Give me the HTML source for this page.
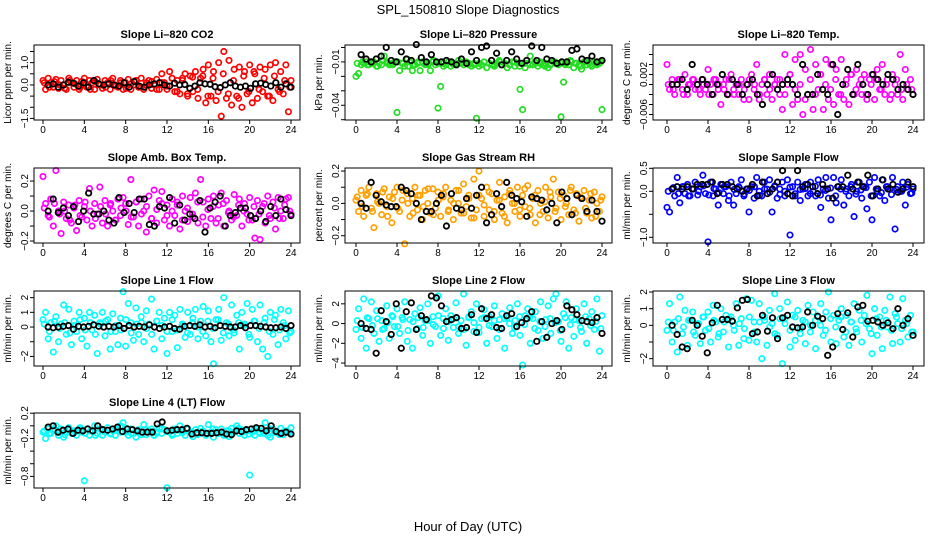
<!DOCTYPE html>
<html><head><meta charset="utf-8"><style>
body{margin:0;background:#fff}
svg{display:block;font-family:"Liberation Sans",Arial,sans-serif}
</style></head><body>
<svg id="chart" width="936" height="540" viewBox="0 0 936 540" xmlns="http://www.w3.org/2000/svg">
<rect width="936" height="540" fill="#fff"/>
<text x="468" y="14" text-anchor="middle" font-size="13">SPL_150810  Slope Diagnostics</text>
<text x="468" y="531" text-anchor="middle" font-size="13">Hour of Day (UTC)</text>
<g id="panels"></g>
</svg>
<script>
const xTicks=[0,4,8,12,16,20,24];
const co2Col=[0.2,-0.2,0.3,0.1,-0.1,0.25,-0.15,0.2,0.0,-0.2,0.3,0.1,-0.1,0.2,-0.2,0.15,0.3,-0.1,0.2,0.1,-0.2,0.25,0.0,-0.15,0.2,0.1,-0.2,0.3,0.0,-0.1,0.2,-0.2,0.1,0.25,-0.2,0.0,0.2,-0.1,0.3,-0.2,0.1,0.2,-0.15,0.0,0.25,-0.2,0.5,0.1,-0.2,0.6,0.3,-0.3,0.2,-0.4,0.3,0.5,-0.5,0.4,-0.3,0.6,-0.6,0.3,0.7,-0.8,0.9,-0.5,0.6,-0.7,1.0,-1.4,1.5,-0.6,1.1,-0.9,0.7,-0.5,0.8,-1.0,0.6,-0.4,0.9,-0.8,0.5,-0.6,0.8,-0.3,0.7,-0.5,0.9,-0.7,1.0,-0.2,0.6,-0.4,0.9,-1.2,0.2];
const co2Core=[0.1,-0.1,0.15,0.0,-0.15,0.2,0.05,-0.1,0.1,-0.2,0.15,0.0,-0.1,0.2,-0.05,0.1,-0.15,0.05,0.2,-0.1,0.0,0.15,-0.2,0.1,-0.05,0.3,-0.3,0.2,-0.4,0.35,-0.2,0.4,-0.5,0.3,-0.3,0.5,-0.4,0.2,-0.6,0.4,-0.3,0.6,-0.2,0.3,-0.5,0.4,-0.3,0.2,-0.1];
const co2Blk=[0,0.05,-0.1,0,0.12,0.08,-0.05,0.1,-0.1,0.2,0.05,0,0.05,0,-0.05,0.1,-0.1,0.15,-0.05,-0.1,0,0.05,0.1,0,-0.05,0.08,0,0.02,-0.15,-0.05,0.1,0.05,0.03,-0.08,-0.12,0,0.1,-0.05,-0.1,-0.05,-0.15,0.05,0.08,0.02,-0.05,0.1,-0.1,0.05,-0.1];
const presCol=[-0.02,-0.018,-0.012,-0.011,-0.01,-0.012,-0.011,-0.01,-0.013,-0.011,-0.012,-0.006,-0.01,-0.012,-0.011,-0.01,-0.045,-0.016,-0.011,-0.013,-0.008,-0.01,-0.016,-0.012,-0.011,-0.016,-0.01,-0.012,-0.011,-0.016,-0.01,-0.012,-0.042,-0.027,-0.011,-0.012,-0.01,-0.013,-0.011,-0.012,-0.009,-0.011,-0.012,-0.01,-0.011,-0.013,-0.012,-0.049,-0.011,-0.012,-0.01,-0.014,-0.011,-0.012,-0.013,-0.011,-0.01,-0.012,-0.011,-0.014,-0.012,-0.01,-0.013,-0.011,-0.029,-0.043,-0.014,-0.011,-0.006,-0.012,-0.011,-0.013,-0.01,-0.012,-0.011,-0.014,-0.012,-0.01,-0.011,-0.012,-0.048,-0.024,-0.011,-0.012,-0.01,-0.014,-0.011,-0.012,-0.015,-0.01,-0.012,-0.011,-0.013,-0.01,-0.012,-0.011,-0.043];
const presCore=[-0.011,-0.01,-0.012,-0.011,-0.013,-0.009,-0.011,-0.012,-0.01,-0.011,-0.013,-0.012,-0.01,-0.011,-0.012,-0.009,-0.011,-0.013,-0.01,-0.012,-0.011,-0.01,-0.012,-0.011,-0.013,-0.01,-0.011,-0.012,-0.009,-0.011,-0.012,-0.01,-0.013,-0.011,-0.012,-0.01,-0.011,-0.013,-0.012,-0.01,-0.011,-0.012,-0.009,-0.011,-0.013,-0.01,-0.012,-0.011,-0.01];
const presBlk=[-0.005,-0.008,-0.01,-0.008,-0.006,0.0,-0.009,-0.01,-0.003,-0.008,-0.009,0.002,-0.007,-0.01,-0.005,-0.01,-0.01,-0.009,-0.01,-0.012,-0.008,-0.011,-0.003,-0.009,0.0,0.001,-0.009,-0.004,-0.012,-0.009,-0.003,-0.008,-0.011,-0.009,0.001,-0.009,0.0,-0.008,-0.009,-0.011,-0.01,-0.01,-0.002,-0.001,-0.008,-0.009,-0.006,-0.01,-0.009];
const tempCol=[0.004,-0.001,0.001,-0.002,0.0,0.001,-0.001,0.002,-0.002,0.0,0.001,-0.001,0.0,-0.002,0.001,-0.001,0.003,0.0,-0.002,0.001,-0.001,-0.004,0.0,0.001,-0.002,0.002,-0.001,0.0,-0.002,0.001,-0.003,0.0,-0.003,0.002,-0.001,0.004,-0.003,0.0,0.001,-0.002,0.002,-0.003,0.0,0.001,-0.002,-0.005,0.006,0.0,0.002,-0.004,0.005,-0.003,0.006,-0.006,0.003,-0.002,0.007,-0.005,0.004,-0.001,0.002,-0.005,0.005,-0.003,0.004,-0.004,0.003,-0.002,0.005,-0.003,0.001,-0.004,0.002,-0.002,0.003,0.0,-0.002,0.002,-0.003,0.001,0.002,-0.003,0.003,-0.001,0.004,-0.002,0.001,-0.003,0.002,0.0,-0.002,0.006,-0.003,0.003,-0.001,0.001,-0.002];
const tempCore=[0.0,-0.001,0.001,-0.002,0.0,0.001,-0.001,0.0,-0.002,0.001,0.0,-0.001,0.001,-0.002,0.0,-0.001,0.001,0.0,-0.002,0.001,-0.001,0.0,0.001,-0.002,0.002,-0.001,0.0,-0.003,0.001,-0.002,0.002,0.0,-0.001,0.001,-0.002,0.0,0.002,-0.001,0.001,-0.002,0.0,0.001,-0.001,0.0,-0.002,0.001,-0.001,0.0,-0.001];
const tempBlk=[0.0,0.0,0.001,-0.001,0.004,0.0,0.001,0.0,-0.002,0.0,0.002,-0.002,0.001,0.0,-0.002,0.0,0.001,-0.002,-0.004,0.0,0.002,-0.001,0.0,0.001,0.0,-0.002,0.004,-0.002,-0.002,0.002,-0.001,-0.002,0.004,-0.006,0.0,0.003,-0.002,0.004,0.0,-0.002,0.002,0.001,0.0,0.002,0.001,-0.001,0.0,-0.001,-0.002];
const ambCol=[0.23,0.05,-0.03,0.08,-0.1,0.27,0.0,-0.15,0.06,-0.05,0.04,-0.08,0.02,-0.13,0.07,-0.04,0.03,-0.06,0.15,-0.1,0.05,-0.02,0.16,-0.08,0.07,-0.1,0.04,0.0,-0.06,0.08,-0.03,0.09,0.05,-0.09,0.21,-0.04,0.06,-0.1,0.08,0.0,-0.14,0.1,-0.05,0.14,-0.08,0.07,0.13,-0.06,0.04,-0.1,0.08,-0.03,0.06,-0.12,0.1,0.0,-0.07,0.09,-0.04,0.12,-0.08,0.21,0.06,-0.1,0.08,-0.05,0.1,-0.08,0.04,0.12,-0.1,0.07,0.0,-0.06,0.11,-0.03,0.08,-0.1,0.05,-0.02,0.09,-0.06,-0.18,0.07,-0.19,0.03,-0.08,0.1,-0.05,0.06,-0.12,0.09,0.0,-0.05,0.08,0.09,-0.02];
const ambCore=[0.02,-0.04,0.05,-0.02,0.0,-0.06,0.04,-0.03,0.06,0.0,-0.05,0.03,-0.02,0.05,-0.06,0.02,0.0,-0.04,0.06,-0.02,0.03,-0.05,0.01,0.05,-0.03,0.0,0.04,-0.06,0.02,-0.02,0.06,-0.04,0.01,0.03,-0.05,0.05,-0.01,-0.04,0.04,0.0,-0.06,0.03,-0.02,0.05,-0.03,0.02,-0.05,0.04,0.0];
const ambBlk=[0.0,0.08,-0.01,0.02,-0.03,0.03,-0.07,0.0,0.12,-0.02,-0.02,0.0,-0.06,-0.08,0.09,-0.01,0.05,-0.01,0.08,0.08,-0.09,-0.1,0.03,0.02,0.09,-0.08,0.04,-0.06,-0.02,-0.05,0.07,-0.14,0.02,0.06,0.1,-0.1,-0.03,-0.01,0.02,0.02,-0.03,-0.05,0.0,-0.07,0.03,-0.03,0.08,0.01,-0.03];
const rhCol=[0.02,-0.05,0.08,-0.08,0.05,0.1,-0.03,-0.15,0.06,0.0,-0.07,0.09,-0.02,0.04,-0.12,0.07,0.1,-0.05,0.02,-0.25,0.06,-0.08,0.03,0.1,-0.04,0.05,-0.1,0.08,0.0,-0.06,0.09,-0.03,0.07,-0.08,0.04,0.1,-0.05,0.02,-0.1,0.08,0.0,-0.06,0.12,-0.02,0.05,-0.09,0.15,-0.04,0.2,0.03,-0.08,0.1,-0.04,0.06,-0.1,0.02,0.13,-0.06,0.04,-0.12,0.08,0.0,-0.05,0.1,-0.08,0.05,-0.02,0.11,-0.07,0.03,-0.12,0.08,0.0,-0.05,0.1,-0.09,0.04,0.15,-0.03,0.07,-0.1,0.05,0.0,-0.07,0.1,-0.04,0.06,-0.11,0.03,0.08,-0.06,0.02,-0.09,0.07,0.0,-0.05,0.04];
const rhCore=[0.04,-0.02,0.06,-0.05,0.01,0.07,-0.08,0.03,-0.03,0.08,0.0,-0.06,0.05,-0.02,0.09,-0.07,0.02,0.06,-0.04,0.0,0.08,-0.06,0.03,-0.09,0.05,-0.01,0.07,-0.05,0.02,-0.08,0.06,0.0,-0.04,0.09,-0.03,0.05,-0.07,0.01,0.07,-0.05,0.03,-0.02,0.08,-0.06,0.04,-0.03,0.06,-0.08,0.02];
const rhBlk=[0.0,-0.03,0.13,0.05,0.01,-0.01,-0.02,-0.02,0.1,0.08,0.06,0.0,-0.1,-0.05,-0.05,0.0,0.05,-0.14,0.06,-0.03,-0.04,0.03,-0.03,0.05,0.1,-0.12,-0.07,0.06,-0.02,0.13,0.05,0.03,0.01,-0.08,0.04,0.03,0.02,-0.04,0.0,-0.12,0.07,0.03,-0.07,0.05,0.03,-0.05,0.02,-0.05,-0.11];
const sfCol=[-0.35,-0.45,0.05,-0.1,0.3,-0.25,0.1,-0.05,0.15,-0.1,0.05,0.2,-0.08,0.1,0.35,-0.05,-1.1,0.2,-0.1,0.05,-0.3,0.15,-0.05,0.1,-0.2,0.2,-0.3,-0.05,0.1,0.25,-0.1,0.05,-0.45,0.1,-0.15,0.3,0.0,-0.1,0.2,0.05,0.25,-0.45,0.1,-0.15,0.05,0.2,-0.1,0.25,-0.95,0.1,-0.05,0.2,-0.2,0.05,0.15,-0.1,0.2,0.0,-0.1,0.25,-0.35,0.05,0.3,-0.15,-0.62,0.3,-0.25,0.1,0.25,-0.3,0.05,-0.1,0.15,-0.55,0.0,0.2,-0.15,0.1,-0.38,0.2,-0.62,0.3,0.0,-0.1,0.25,-0.2,0.1,0.05,0.3,-0.82,0.1,0.0,0.2,-0.3,0.15,-0.05,0.05];
const sfCore=[0.0,0.08,-0.05,0.1,-0.1,0.05,0.0,0.12,-0.08,0.06,-0.03,0.1,-0.1,0.04,0.08,-0.06,0.02,0.1,-0.09,0.05,-0.02,0.12,-0.07,0.0,0.09,-0.1,0.04,0.06,-0.05,0.11,-0.08,0.02,0.07,-0.1,0.05,0.0,0.1,-0.06,0.03,0.08,-0.1,0.05,-0.03,0.1,-0.07,0.04,0.0,0.09,-0.04];
const sfBlk=[0.05,0.1,0.05,0.1,0.05,0.15,0.15,0.15,0.2,-0.05,0.15,0.15,0.1,0.05,0.0,0.05,0.15,-0.1,0.2,-0.05,0.05,0.2,0.45,-0.05,-0.1,0.45,0.1,0.15,0.1,-0.05,0.15,0.05,-0.15,0.1,0.1,0.35,0.05,0.2,0.1,0.35,-0.1,0.05,0.25,0.05,0.15,-0.02,0.05,0.2,0.1];
const l1Col=[0.5,1.0,-0.8,0.3,-1.7,0.7,-1.0,0.2,1.5,-0.5,1.2,-1.2,0.4,-0.3,1.0,-0.8,0.6,-1.3,1.0,-0.2,0.8,-1.8,0.3,1.0,-0.6,0.5,-1.5,0.9,-0.3,-1.2,0.6,2.4,-1.3,1.6,0.3,-0.9,1.3,-0.5,0.7,-1.0,1.1,0.2,1.9,-1.5,0.4,1.0,-0.8,0.6,-1.8,1.0,-0.3,0.8,-1.4,1.2,0.1,-0.7,1.0,-0.5,0.6,1.2,-0.8,0.4,1.4,-0.6,1.1,-1.0,-2.5,0.5,1.2,-0.9,2.0,0.3,-0.6,1.5,-0.4,0.8,-1.5,1.0,0.2,1.6,-0.7,1.2,0.4,-1.0,1.5,-1.5,0.6,-2.0,1.0,-0.5,0.8,-1.2,1.2,0.3,-0.8,1.1,-0.3];
const l1Core=[0.2,-0.3,0.4,-0.1,0.3,-0.4,0.1,0.5,-0.2,0.3,-0.5,0.2,0.4,-0.3,0.1,-0.2,0.5,-0.4,0.2,0.3,-0.1,-0.5,0.4,0.1,-0.3,0.5,-0.2,0.2,-0.4,0.3,0.0,-0.3,0.4,-0.1,0.5,-0.4,0.2,-0.2,0.3,0.1,-0.5,0.4,-0.1,0.3,-0.3,0.5,-0.2,0.1,-0.4];
const l1Blk=[0.0,-0.05,0.0,0.05,0.1,-0.15,0.05,0.0,0.05,0.15,0.05,0.0,0.05,0.0,0.1,-0.1,0.1,0.0,0.05,0.0,0.15,0.0,-0.1,0.0,0.05,-0.1,-0.15,0.05,0.1,0.05,0.15,0.0,0.05,-0.05,0.1,0.05,0.0,0.0,0.1,-0.05,0.1,0.1,0.05,0.0,-0.05,-0.05,0.0,-0.1,0.1];
const l2Col=[-0.6,1.5,-1.5,2.5,-2.5,0.5,2.2,-1.0,1.3,-1.8,0.3,-0.5,1.8,-1.5,0.8,-0.3,1.5,-1.0,0.6,2.2,-1.8,0.4,-2.5,1.0,-0.5,1.6,-1.2,0.3,2.0,-2.0,0.7,-0.3,2.8,-1.2,0.5,1.5,-1.7,0.8,-0.4,2.1,-1.0,0.3,3.0,-2.2,0.6,1.2,-0.8,2.0,-0.9,0.5,1.4,-2.0,0.7,-0.3,1.8,-1.5,0.4,1.0,-2.5,0.6,1.6,-1.0,0.3,2.0,-1.2,-4.2,0.8,1.5,-2.0,0.5,1.2,-0.7,2.2,-1.5,0.4,1.8,-1.0,2.5,3.0,0.2,-1.8,1.0,2.2,-2.5,0.6,-1.3,1.5,0.3,-0.8,2.0,-2.0,0.5,1.2,-0.6,2.5,-2.8,0.8];
const l2Core=[0.3,-0.4,0.6,-0.2,0.5,-0.6,0.1,0.7,-0.3,0.4,-0.7,0.2,0.6,-0.4,0.3,-0.1,0.8,-0.5,0.2,0.5,-0.3,-0.6,0.7,0.1,-0.4,0.6,-0.2,0.3,-0.6,0.5,0.0,-0.4,0.7,-0.1,0.6,-0.5,0.2,-0.3,0.5,0.1,-0.7,0.6,-0.1,0.4,-0.4,0.7,-0.2,0.2,-0.5];
const l2Blk=[0,-0.5,-0.6,-3.0,1.3,0.2,-1.1,2.0,-2.5,1.2,2.1,-0.6,0.8,0.4,2.8,2.6,1.8,0.2,0.4,0.6,-0.5,-0.4,0.9,-0.9,1.5,0.5,0.9,-0.4,-0.5,0.8,1.0,-0.3,0.1,0.5,1.2,-1.8,0.2,-1.4,0.0,0.3,-0.6,1.8,1.4,0.9,0.3,0.2,0.1,0.6,-1.0];
const l3Col=[-0.3,1.3,-1.0,0.2,-1.6,1.7,-0.5,0.9,-1.2,0.3,0.8,-0.6,0.1,-1.1,0.5,-0.3,0.8,-1.0,1.2,0.2,-0.7,1.0,-0.4,0.6,-1.3,0.5,0.0,1.3,-1.2,0.4,-0.8,1.6,-0.9,1.5,0.2,-1.0,1.3,-2.0,0.5,-1.2,0.9,0.1,1.9,-0.6,1.0,-2.3,0.4,1.4,-1.3,0.6,-0.9,0.9,-0.5,0.3,-1.1,1.2,0.0,0.8,-1.4,0.5,1.3,-0.6,0.8,2.0,-1.0,0.6,-1.1,0.3,1.0,-0.7,0.6,-1.2,0.2,1.3,-0.4,0.9,-1.0,0.6,1.8,-0.2,-1.7,1.0,-0.6,0.5,-1.4,0.9,-0.1,1.7,-1.1,0.7,0.1,-1.0,1.6,0.3,-0.7,0.6,-0.4];
const l3Core=[0.2,-0.3,0.4,-0.1,0.3,-0.4,0.1,0.5,-0.2,0.3,-0.5,0.2,0.4,-0.3,0.1,-0.2,0.5,-0.4,0.2,0.3,-0.1,-0.5,0.4,0.1,-0.3,0.5,-0.2,0.2,-0.4,0.3,0.0,-0.3,0.4,-0.1,0.5,-0.4,0.2,-0.2,0.3,0.1,-0.5,0.4,-0.1,0.3,-0.3,0.5,-0.2,0.1,-0.4];
const l3Blk=[0,-0.55,-1.3,-1.4,0.3,0.0,-0.65,-1.65,0.15,1.2,0.35,0.35,0.25,1.05,1.5,1.55,-0.5,-0.4,0.6,-0.35,0.45,-0.8,0.45,0.6,-0.1,-0.15,-0.1,0.8,0.0,0.55,0.4,-1.8,-1.3,0.7,-0.25,0.75,-0.7,1.1,1.2,0.25,0.3,0.2,0.0,0.15,-0.2,1.0,0.0,0.4,-0.6];
const l4Col=[-0.1,-0.2,-0.05,-0.12,-0.08,0.0,-0.15,-0.05,-0.18,-0.1,-0.03,-0.12,-0.08,-0.15,-0.05,-0.1,-0.87,-0.05,-0.15,-0.08,0.0,-0.12,-0.05,-0.15,-0.1,-0.03,-0.12,-0.08,-0.15,-0.05,0.0,0.05,-0.1,-0.15,-0.05,-0.12,-0.18,-0.06,-0.1,0.02,-0.14,-0.08,-0.05,-0.15,-0.1,-0.03,-0.12,-0.06,-0.98,-0.1,-0.15,-0.05,-0.12,0.0,-0.08,-0.15,-0.05,-0.1,-0.17,-0.06,-0.12,-0.04,-0.1,-0.15,0.02,-0.1,-0.18,-0.06,-0.12,-0.05,-0.15,-0.08,-0.17,-0.04,-0.1,0.0,-0.12,-0.06,-0.15,-0.08,-0.78,-0.1,-0.15,-0.05,-0.12,-0.08,0.05,-0.15,-0.18,-0.05,-0.1,-0.12,-0.04,-0.14,-0.08,-0.1,-0.03];
const l4Core=[-0.08,-0.12,-0.05,-0.1,-0.14,-0.06,-0.1,-0.03,-0.12,-0.08,-0.15,-0.05,-0.1,-0.13,-0.07,-0.1,-0.04,-0.12,-0.09,-0.14,-0.06,-0.1,-0.12,-0.05,-0.09,-0.13,-0.07,-0.11,-0.04,-0.1,-0.14,-0.08,-0.12,-0.05,-0.1,-0.13,-0.07,-0.11,-0.04,-0.09,-0.13,-0.06,-0.1,-0.12,-0.05,-0.1,-0.14,-0.08,-0.11];
const l4Blk=[-0.02,0.0,-0.1,-0.07,-0.05,-0.12,-0.07,-0.08,-0.05,-0.08,0.0,-0.06,-0.07,-0.05,-0.02,-0.09,-0.05,-0.06,-0.08,-0.1,-0.1,-0.1,0.03,0.06,-0.08,-0.07,-0.06,-0.06,-0.04,-0.13,-0.11,-0.11,-0.12,-0.12,-0.11,-0.1,-0.13,-0.14,-0.08,-0.09,-0.06,-0.05,-0.03,-0.04,-0.08,0.0,-0.09,-0.12,-0.1,-0.13];

const cols=[{l:34,r:300,x0:43,x1:291},{l:345,r:612,x0:356,x1:602},{l:653,r:924,x0:667,x1:913}];
const rows=[45,168,291,413];
const panels=[
 {id:'co2',t:'Slope Li\u2013820 CO2',yl:'Licor ppm per min.',c:0,r:0,lo:-1.57,hi:1.79,col:'#ff0000',d:co2Col,k:co2Core,b:co2Blk,ticks:[-1.5,-1,-0.5,0,0.5,1,1.5],labs:{'1':'1.0','0':'0.0','-1.5':'\u22121.5'}},
 {id:'pressure',t:'Slope Li\u2013820 Pressure',yl:'kPa per min.',c:1,r:0,lo:-0.0502,hi:0.0017,col:'#22dd22',d:presCol,k:presCore,b:presBlk,ticks:[0,-0.01,-0.02,-0.03,-0.04,-0.05],labs:{'-0.01':'\u22120.01','-0.04':'\u22120.04'}},
 {id:'temp',t:'Slope Li\u2013820 Temp.',yl:'degrees C per min.',c:2,r:0,lo:-0.0071,hi:0.0079,col:'#ff00ff',d:tempCol,k:tempCore,b:tempBlk,ticks:[0.006,0.004,0.002,0,-0.002,-0.004,-0.006],labs:{'0.002':'0.002','-0.006':'\u22120.006'}},
 {id:'amb-box',t:'Slope Amb. Box Temp.',yl:'degrees C per min.',c:0,r:1,lo:-0.213,hi:0.287,col:'#ff00ff',d:ambCol,k:ambCore,b:ambBlk,ticks:[-0.2,-0.1,0,0.1,0.2],labs:{'0.2':'0.2','0':'0.0','-0.2':'\u22120.2'}},
 {id:'gas-rh',t:'Slope Gas Stream RH',yl:'percent per min.',c:1,r:1,lo:-0.245,hi:0.219,col:'#ffa000',d:rhCol,k:rhCore,b:rhBlk,ticks:[-0.2,-0.1,0,0.1,0.2],labs:{'0.2':'0.2','0':'0.0','-0.2':'\u22120.2'}},
 {id:'sample-flow',t:'Slope Sample Flow',yl:'ml/min per min.',c:2,r:1,lo:-1.124,hi:0.507,col:'#0000ff',d:sfCol,k:sfCore,b:sfBlk,ticks:[0.5,0,-0.5,-1],labs:{'0.5':'0.5','0':'0.0','-1':'\u22121.0'}},
 {id:'line1',t:'Slope Line 1 Flow',yl:'ml/min per min.',c:0,r:2,lo:-2.65,hi:2.45,col:'#00ffff',d:l1Col,k:l1Core,b:l1Blk,ticks:[2,1,0,-1,-2],labs:{'2':'2','1':'1','0':'0','-2':'\u22122'}},
 {id:'line2',t:'Slope Line 2 Flow',yl:'ml/min per min.',c:1,r:2,lo:-4.3,hi:3.3,col:'#00ffff',d:l2Col,k:l2Core,b:l2Blk,ticks:[2,0,-2,-4],labs:{'2':'2','0':'0','-2':'\u22122','-4':'\u22124'}},
 {id:'line3',t:'Slope Line 3 Flow',yl:'ml/min per min.',c:2,r:2,lo:-2.44,hi:2.06,col:'#00ffff',d:l3Col,k:l3Core,b:l3Blk,ticks:[2,1,0,-1,-2],labs:{'2':'2','1':'1','0':'0','-2':'\u22122'}},
 {id:'line4',t:'Slope Line 4 (LT) Flow',yl:'ml/min per min.',c:0,r:3,lo:-0.984,hi:0.203,col:'#00ffff',d:l4Col,k:l4Core,b:l4Blk,ticks:[0.2,0,-0.2,-0.4,-0.6,-0.8],labs:{'0.2':'0.2','-0.2':'\u22120.2','-0.8':'\u22120.8'}}
];
const NS='http://www.w3.org/2000/svg';
const root=document.getElementById('panels');
function mk(tag,attrs,parent){const e=document.createElementNS(NS,tag);for(const k in attrs)e.setAttribute(k,attrs[k]);parent.appendChild(e);return e;}
panels.forEach(p=>{
  const C=cols[p.c],top=rows[p.r],bot=top+75;
  const g=mk('g',{},root);
  
  
  const xs=h=>C.x0+(C.x1-C.x0)*h/24;
  const ys=v=>bot-(v-p.lo)/(p.hi-p.lo)*75;
  const tt=mk('text',{x:(C.l+C.r)/2,y:top-7,'text-anchor':'middle','font-size':11,'font-weight':'bold'},g);
  tt.textContent=p.t;
  
  
  const yl=mk('text',{transform:`translate(${C.l-23},${(top+bot)/2}) rotate(-90)`,'text-anchor':'middle','font-size':10},g);
  yl.textContent=p.yl;
  
  
  const n=p.d.length;
  p.d.forEach((v,i)=>{
    const c=mk('circle',{cx:xs(24*i/(n-1)),cy:ys(v),r:2.7,fill:'none',stroke:p.col,'stroke-width':1.7},g);
    
    
  });
  const q=p.k.length;
  p.k.forEach((v,i)=>{
    const c=mk('circle',{cx:xs(0.12+23.76*i/(q-1)),cy:ys(v),r:2.7,fill:'none',stroke:p.col,'stroke-width':1.7},g);
    
    
  });
  const m=p.b.length;
  p.b.forEach((v,i)=>{
    const c=mk('circle',{cx:xs(0.5+23.5*i/(m-1)),cy:ys(v),r:2.7,fill:'none',stroke:'#000','stroke-width':1.8},g);
    
    
  });
  const box=mk('rect',{x:C.l,y:top,width:C.r-C.l,height:75,fill:'none',stroke:'#000','stroke-width':1},g);
  
  
  xTicks.forEach(h=>{
    mk('line',{x1:xs(h),x2:xs(h),y1:bot,y2:bot+4,stroke:'#000'},g);
    const t=mk('text',{x:xs(h),y:bot+13,'text-anchor':'middle','font-size':10},g);
    t.textContent=h;
    
    
  });
  p.ticks.forEach(v=>{
    mk('line',{x1:C.l-4,x2:C.l,y1:ys(v),y2:ys(v),stroke:'#000'},g);
    const lab=p.labs[String(v)];
    if(lab){
      const t=mk('text',{transform:`translate(${C.l-6},${ys(v)}) rotate(-90)`,'text-anchor':'middle','font-size':10},g);
      t.textContent=lab;
      
      
    }
  });
});
</script>
</body></html>
